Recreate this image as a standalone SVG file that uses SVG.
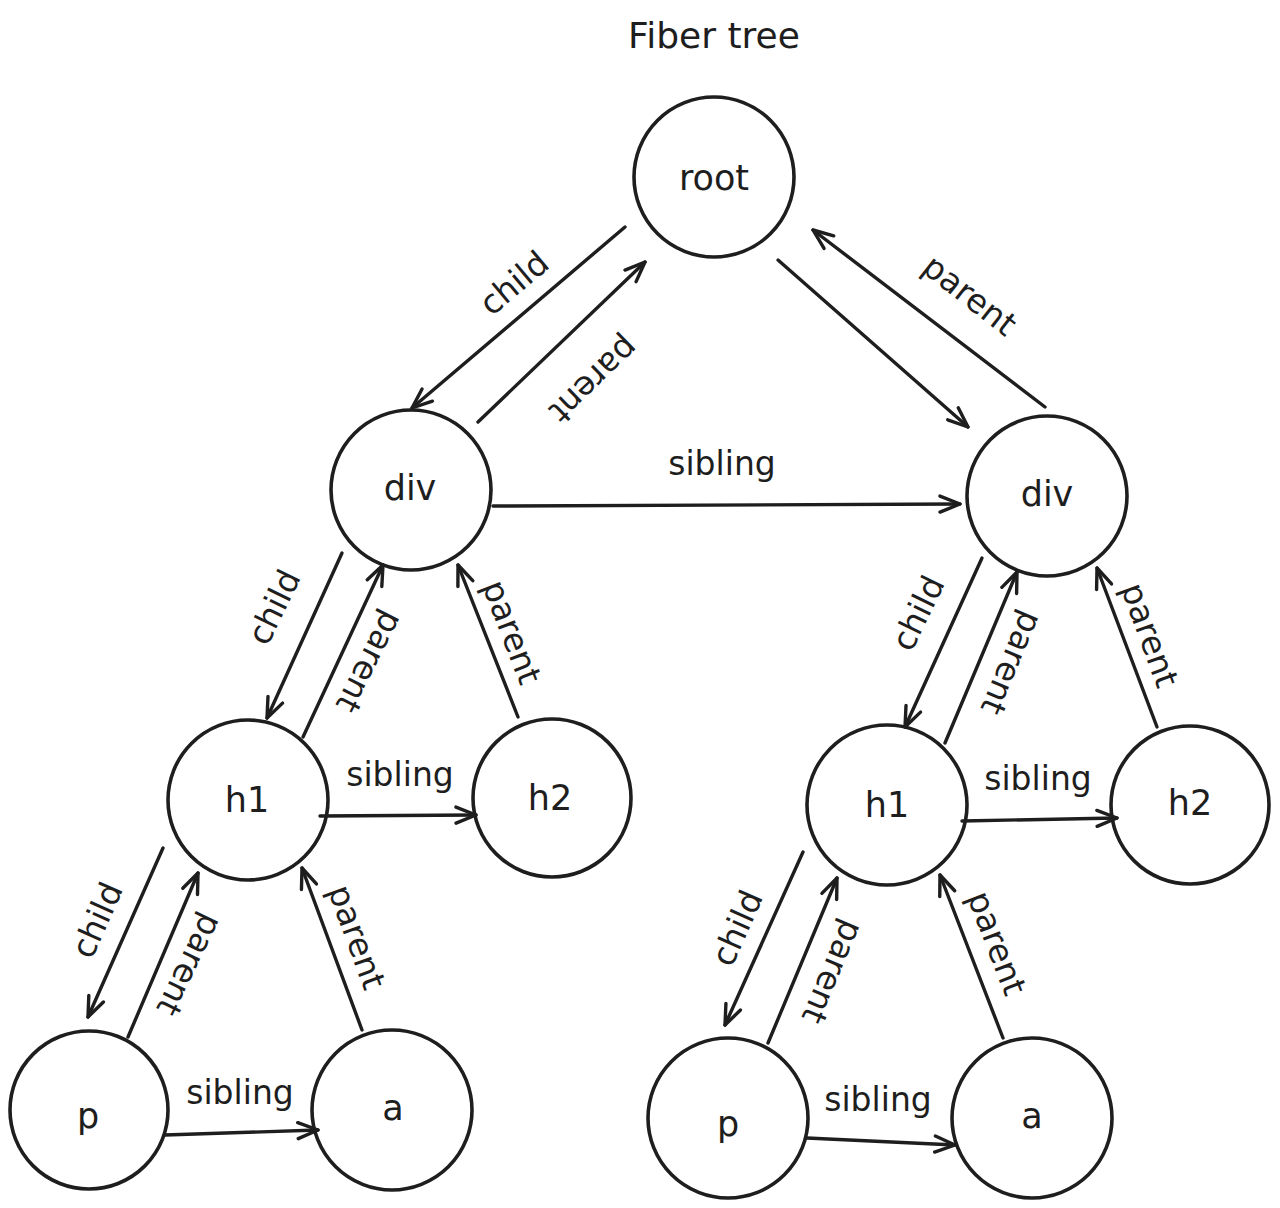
<svg xmlns="http://www.w3.org/2000/svg" width="1280" height="1208" viewBox="0 0 1280 1208">
<defs>
<style>
.node{fill:none;stroke:#1e1e1e;stroke-width:3.6}
.edge{fill:none;stroke:#1e1e1e;stroke-width:3.4;stroke-linecap:round}
.nl{font-family:"DejaVu Sans",sans-serif;font-size:35px;fill:#1e1e1e;text-anchor:middle;dominant-baseline:central}
.el{font-family:"DejaVu Sans",sans-serif;font-size:33px;fill:#1e1e1e;text-anchor:middle;dominant-baseline:central}
.title{font-family:"DejaVu Sans",sans-serif;font-size:36px;fill:#1e1e1e;text-anchor:middle;dominant-baseline:central}
</style>
<marker id="ah" viewBox="0 0 24 20" refX="22" refY="10" markerWidth="24" markerHeight="20" markerUnits="userSpaceOnUse" orient="auto">
<path d="M2,2 L22,10 L2,18" fill="none" stroke="#1e1e1e" stroke-width="3.4" stroke-linecap="round" stroke-linejoin="round"/>
</marker>
</defs>
<rect width="1280" height="1208" fill="#ffffff"/>
<text class="title" x="714" y="35">Fiber tree</text>

<g id="root"><circle class="node" cx="714" cy="177" r="80"/><text class="nl" x="714" y="178">root</text></g>
<g id="div-left"><circle class="node" cx="411" cy="490" r="80"/><text class="nl" x="410" y="488">div</text></g>
<g id="div-right"><circle class="node" cx="1047" cy="496" r="80"/><text class="nl" x="1047" y="494">div</text></g>
<g id="h1-left"><circle class="node" cx="248" cy="800" r="80"/><text class="nl" x="247" y="800">h1</text></g>
<g id="h2-left"><circle class="node" cx="552" cy="798" r="79"/><text class="nl" x="550" y="798">h2</text></g>
<g id="p-left"><circle class="node" cx="89" cy="1110" r="79"/><text class="nl" x="88" y="1116">p</text></g>
<g id="a-left"><circle class="node" cx="392" cy="1110" r="80"/><text class="nl" x="393" y="1108">a</text></g>
<g id="h1-right"><circle class="node" cx="887" cy="805" r="80"/><text class="nl" x="887" y="805">h1</text></g>
<g id="h2-right"><circle class="node" cx="1190" cy="805" r="79"/><text class="nl" x="1190" y="803">h2</text></g>
<g id="p-right"><circle class="node" cx="728" cy="1118" r="80"/><text class="nl" x="728" y="1124">p</text></g>
<g id="a-right"><circle class="node" cx="1032" cy="1118" r="80"/><text class="nl" x="1032" y="1116">a</text></g>

<g id="connectors">
<line class="edge" x1="625" y1="227" x2="412" y2="408" marker-end="url(#ah)"/>
<line class="edge" x1="478" y1="422" x2="645" y2="262" marker-end="url(#ah)"/>
<line class="edge" x1="778" y1="260" x2="968" y2="427" marker-end="url(#ah)"/>
<line class="edge" x1="1045" y1="407" x2="813" y2="230" marker-end="url(#ah)"/>
<line class="edge" x1="493" y1="506" x2="960" y2="504" marker-end="url(#ah)"/>
<line class="edge" x1="342" y1="553" x2="267" y2="718" marker-end="url(#ah)"/>
<line class="edge" x1="303" y1="737" x2="383" y2="565" marker-end="url(#ah)"/>
<line class="edge" x1="518" y1="717" x2="458" y2="565" marker-end="url(#ah)"/>
<line class="edge" x1="320" y1="816" x2="476" y2="815" marker-end="url(#ah)"/>
<line class="edge" x1="163" y1="848" x2="88" y2="1017" marker-end="url(#ah)"/>
<line class="edge" x1="128" y1="1037" x2="198" y2="873" marker-end="url(#ah)"/>
<line class="edge" x1="362" y1="1030" x2="302" y2="868" marker-end="url(#ah)"/>
<line class="edge" x1="165" y1="1135" x2="318" y2="1130" marker-end="url(#ah)"/>
<line class="edge" x1="982" y1="558" x2="905" y2="727" marker-end="url(#ah)"/>
<line class="edge" x1="945" y1="743" x2="1017" y2="572" marker-end="url(#ah)"/>
<line class="edge" x1="1157" y1="727" x2="1097" y2="568" marker-end="url(#ah)"/>
<line class="edge" x1="962" y1="821" x2="1117" y2="818" marker-end="url(#ah)"/>
<line class="edge" x1="803" y1="852" x2="725" y2="1025" marker-end="url(#ah)"/>
<line class="edge" x1="768" y1="1043" x2="837" y2="878" marker-end="url(#ah)"/>
<line class="edge" x1="1003" y1="1038" x2="940" y2="875" marker-end="url(#ah)"/>
<line class="edge" x1="807" y1="1138" x2="955" y2="1145" marker-end="url(#ah)"/>

<text class="el" transform="translate(514,283) rotate(-40)">child</text>
<text class="el" transform="translate(594,380) rotate(136)">parent</text>
<text class="el" transform="translate(970,295) rotate(38)">parent</text>
<text class="el" x="722" y="463">sibling</text>
<text class="el" transform="translate(274,607) rotate(-64)">child</text>
<text class="el" transform="translate(370,662) rotate(117)">parent</text>
<text class="el" transform="translate(512,632) rotate(69)">parent</text>
<text class="el" x="400" y="774">sibling</text>
<text class="el" transform="translate(97,920) rotate(-66)">child</text>
<text class="el" transform="translate(190,965) rotate(116)">parent</text>
<text class="el" transform="translate(357,937) rotate(70)">parent</text>
<text class="el" x="240" y="1092">sibling</text>
<text class="el" transform="translate(918,613) rotate(-64)">child</text>
<text class="el" transform="translate(1012,663) rotate(113)">parent</text>
<text class="el" transform="translate(1150,635) rotate(70)">parent</text>
<text class="el" x="1038" y="778">sibling</text>
<text class="el" transform="translate(737,928) rotate(-66)">child</text>
<text class="el" transform="translate(833,972) rotate(113)">parent</text>
<text class="el" transform="translate(997,943) rotate(69)">parent</text>
<text class="el" x="878" y="1099">sibling</text>
</g>
</svg>
